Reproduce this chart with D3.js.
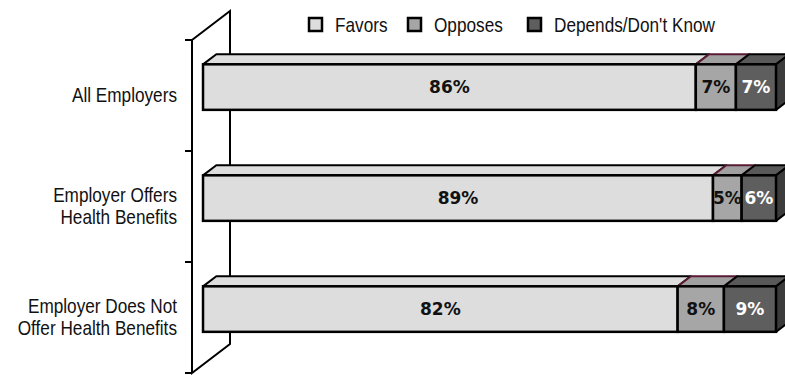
<!DOCTYPE html>
<html>
<head>
<meta charset="utf-8">
<script src="https://cdn.jsdelivr.net/npm/d3@7"></script>
<style>
  html, body { margin: 0; padding: 0; background: #fff; }
  svg { display: block; }
  .cat, .legend-text { font-family: "Liberation Sans", Arial, sans-serif; font-size: 20px; fill: #111; }
  .val { font-family: "DejaVu Sans", Verdana, sans-serif; font-weight: bold; font-size: 17px; }
</style>
</head>
<body>
<svg id="chart" width="785" height="375"></svg>
<script>
// Employer views, share of respondents per group
const categoryLines = [
  ["All Employers"],
  ["Employer Offers", "Health Benefits"],
  ["Employer Does Not", "Offer Health Benefits"]
];
const seriesNames = ["Favors", "Opposes", "Depends/Don't Know"];
const favors = [86, 89, 82];
const opposes = [7, 5, 8];
const depends = [7, 6, 9];

const frontColors = ["#dddddd", "#a6a6a6", "#5e5e5e"];
const topColors = ["#dedede", "#a0a0a0", "#595959"];
const sideColor = "#3c3c3c";
const labelColors = ["#111", "#111", "#fff"];

// narrow face for the axis and legend text
const narrow = 0.86;

const rows = categoryLines.map((lines, i) => ({
  key: i,
  [seriesNames[0]]: favors[i],
  [seriesNames[1]]: opposes[i],
  [seriesNames[2]]: depends[i]
}));

// 100% stacked layout
const stacked = d3.stack().keys(seriesNames).offset(d3.stackOffsetExpand)(rows);

const svg = d3.select("#chart");

// Front plane of the plot, plus the depth vector of the 3D box
const x = d3.scaleLinear().domain([0, 1]).range([192, 765]);
const y = d3.scaleBand().domain(d3.range(categoryLines.length)).range([40, 373])
  .paddingInner(0.59).paddingOuter(0.295);
const depth = [38, -29];
const fFront = 0.29, fBack = 0.64;
const P = (v, yy, f) => [x(v) + f * depth[0], yy + f * depth[1]];
const poly = pts => "M" + pts.map(p => p.join(",")).join("L") + "Z";

// Side wall
const wall = svg.append("g").attr("stroke", "#000").attr("stroke-width", 2).attr("fill", "none");
const yTop = y.range()[0], yBot = y.range()[1];
wall.append("path").attr("fill", "#fff")
  .attr("d", poly([P(0, yTop, 0), P(0, yTop, 1), P(0, yBot, 1), P(0, yBot, 0)]));

// Category axis ticks between groups
const tickPos = [yTop]
  .concat(d3.range(1, categoryLines.length).map(i => y(i) - y.step() * y.paddingInner() / 2))
  .concat([yBot]);
wall.selectAll("line.tick").data(tickPos).join("line")
  .attr("class", "tick")
  .attr("x1", x(0) - 7).attr("x2", x(0))
  .attr("y1", d => d).attr("y2", d => d);

// Bars
const barG = svg.append("g");
stacked.forEach((layer, si) => {
  layer.forEach((seg, ci) => {
    const v0 = seg[0], v1 = seg[1];
    const t = y(ci), b = y(ci) + y.bandwidth();
    const g = barG.append("g");
    // top face
    g.append("path")
      .attr("d", poly([P(v0, t, fFront), P(v1, t, fFront), P(v1, t, fBack), P(v0, t, fBack)]))
      .attr("fill", topColors[si])
      .attr("stroke", si === 1 ? "#5a1a34" : "#000")
      .attr("stroke-width", 2).attr("stroke-linejoin", "round");
    // right side face of the last segment
    if (si === stacked.length - 1) {
      g.append("path")
        .attr("d", poly([P(v1, t, fFront), P(v1, t, fBack), P(v1, b, fBack), P(v1, b, fFront)]))
        .attr("fill", sideColor).attr("stroke", "#000").attr("stroke-width", 2).attr("stroke-linejoin", "round");
    }
    // front face
    const p0 = P(v0, t, fFront), p1 = P(v1, b, fFront);
    g.append("rect")
      .attr("x", p0[0]).attr("y", p0[1])
      .attr("width", p1[0] - p0[0]).attr("height", p1[1] - p0[1])
      .attr("fill", frontColors[si]).attr("stroke", "#000").attr("stroke-width", 2.5);
  });
});

// Value labels
stacked.forEach((layer, si) => {
  layer.forEach((seg, ci) => {
    const t = y(ci), b = y(ci) + y.bandwidth();
    const c = P((seg[0] + seg[1]) / 2, (t + b) / 2, fFront);
    const raw = [favors, opposes, depends][si][ci];
    svg.append("text").attr("class", "val")
      .attr("x", c[0]).attr("y", c[1])
      .attr("text-anchor", "middle").attr("dominant-baseline", "central")
      .attr("fill", labelColors[si])
      .text(raw + "%");
  });
});

// Category labels
categoryLines.forEach((lines, ci) => {
  const cy = y(ci) + y.bandwidth() / 2;
  const lh = 22;
  const g = svg.append("g").attr("transform", `translate(177,0) scale(${narrow},1)`);
  lines.forEach((ln, li) => {
    g.append("text").attr("class", "cat").attr("text-anchor", "end")
      .attr("x", 0)
      .attr("y", cy + (li - (lines.length - 1) / 2) * lh)
      .attr("dy", "0.33em")
      .text(ln);
  });
});

// Legend
const legendX = [309, 408, 528];
const legend = svg.append("g");
seriesNames.forEach((name, si) => {
  legend.append("rect")
    .attr("x", legendX[si]).attr("y", 18).attr("width", 13).attr("height", 13)
    .attr("fill", frontColors[si]).attr("stroke", "#000").attr("stroke-width", 2.5);
  legend.append("g").attr("transform", `translate(${legendX[si] + 26},32) scale(${narrow},1)`)
    .append("text").attr("class", "legend-text")
    .attr("x", 0).attr("y", 0)
    .text(name);
});
</script>
</body>
</html>
